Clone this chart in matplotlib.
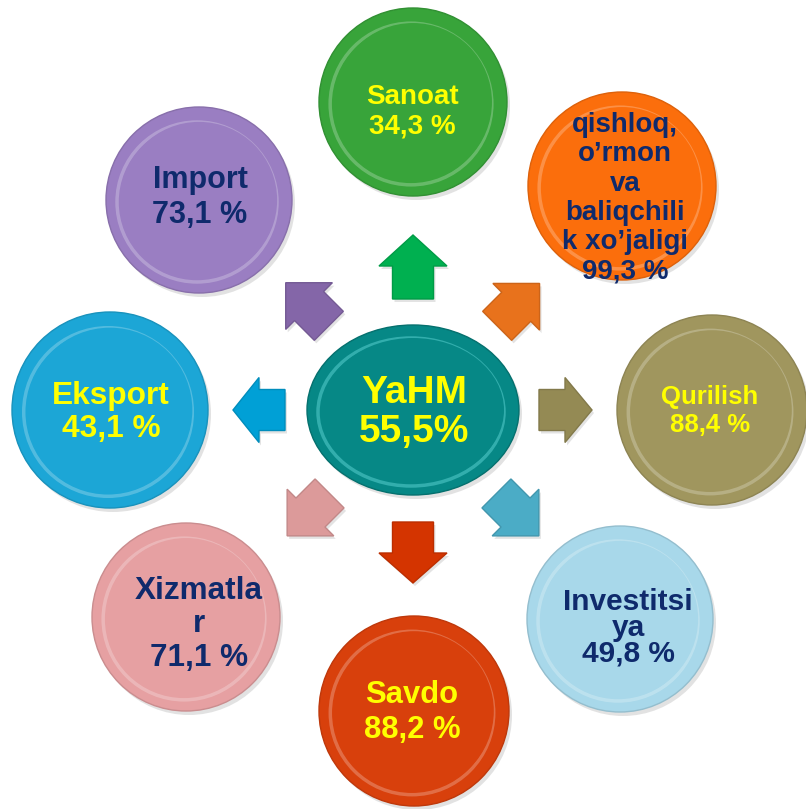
import numpy as np
import matplotlib
matplotlib.use("Agg")
from matplotlib import pyplot as plt
from matplotlib.patches import Circle, Ellipse, FancyArrow
from matplotlib.colors import to_rgb

# data
names = ["Sanoat", "qishloq,\no’rmon\nva\nbaliqchili\nk xo’jaligi", "Qurilish",
         "Investitsi\nya", "Savdo", "Xizmatla\nr", "Eksport", "Import"]
values = [34.3, 99.3, 88.4, 49.8, 88.2, 71.1, 43.1, 73.1]
center_name = "YaHM"
center_value = 55.5

circle_colors = ["#38a43a", "#fb6e0c", "#a0965e", "#a8d8ea", "#d8400c", "#e6a0a2", "#1ca6d6", "#9a7ec2"]
arrow_colors = ["#00b050", "#e8721c", "#948a54", "#4bacc6", "#d43400", "#dc9a9a", "#00a0d6", "#8466a8"]
text_colors = ["#ffff00", "#0f2a6c", "#ffff00", "#0f2a6c", "#ffff00", "#0f2a6c", "#ffff00", "#0f2a6c"]
font_sizes = [20, 20, 18.5, 21.5, 22.3, 22.7, 22.8, 22]

# layout (pixels, y down)
centers = [(413, 102), (622, 186), (712, 410), (620, 619), (414, 711), (186, 617), (110, 410), (199, 200)]
radii = [94, 94, 95, 93, 95, 94, 98, 93]
text_x = [412, 625, 710, 628, 412, 199, 111, 200]
first_base = [104, 132, 404, 610, 703, 599, 404, 188]
line_step = [29, 29.3, 28, 26, 35, 33.5, 33, 35]

# arrows: direction, distance of tail from centre, length, head width, head length
angles = [90, 45, 0, -45, -90, -135, 180, 135]
arrow_start = [111, 119, 126, 118, 112, 118, 128, 119]
arrow_len = [64, 60, 53, 60, 61, 60, 52, 61]
head_w = [68, 66, 65, 66, 68, 66, 65, 66]
head_l = [31, 33, 27, 33, 30, 33, 26, 33]


def lighten(c, f):
    r, g, b = to_rgb(c)
    return (r + (1 - r) * f, g + (1 - g) * f, b + (1 - b) * f)


def darken(c, f):
    r, g, b = to_rgb(c)
    return (r * (1 - f), g * (1 - f), b * (1 - f))


def fmt(v):
    return f"{v:.1f}".replace(".", ",")


def put_lines(x, y0, step, lines, **kw):
    for i, s in enumerate(lines):
        ax.text(x, y0 + i * step, s, ha="center", va="baseline", fontweight="bold",
                family="Liberation Sans", zorder=5, **kw)


fig = plt.figure(figsize=(8.06, 8.09), dpi=100)
ax = fig.add_axes([0, 0, 1, 1])
ax.set_xlim(0, 806)
ax.set_ylim(809, 0)
ax.set_aspect("equal")
ax.axis("off")

# glossy discs
for (cx, cy), r, col in zip(centers, radii, circle_colors):
    ax.add_patch(Circle((cx + 3, cy + 4), r, color="#a0a0a0", alpha=0.3, lw=0, zorder=1))
    ax.add_patch(Circle((cx, cy), r, facecolor=col, edgecolor=darken(col, 0.12), lw=1, zorder=2))
    ax.add_patch(Circle((cx - 2, cy + 2), r * 0.86, facecolor="none", edgecolor=lighten(col, 0.4),
                        lw=2.5, alpha=0.6, zorder=3))
    ax.add_patch(Circle((cx, cy), r * 0.84, facecolor=col, edgecolor="none", zorder=3))

# center ellipse
ax.add_patch(Ellipse((416, 414), 212, 170, color="#a0a0a0", alpha=0.3, lw=0, zorder=1))
ax.add_patch(Ellipse((413, 410), 212, 170, facecolor="#068886", edgecolor="#05706e", lw=1, zorder=2))
ax.add_patch(Ellipse((411, 412), 186, 148, facecolor="none", edgecolor="#50c8c8", lw=2.5,
                     alpha=0.6, zorder=3))
ax.add_patch(Ellipse((413, 410), 182, 144, facecolor="#068886", edgecolor="none", zorder=3))

# arrows pointing outward
for a, col, st, ln, hw, hl in zip(angles, arrow_colors, arrow_start, arrow_len, head_w, head_l):
    t = np.deg2rad(a)
    ux, uy = np.cos(t), -np.sin(t)
    sx, sy = 413 + ux * st, 410 + uy * st
    ax.add_patch(FancyArrow(sx + 2, sy + 3, ux * ln, uy * ln, width=41, head_width=hw,
                            head_length=hl, length_includes_head=True, color="#c8c8c8",
                            alpha=0.5, lw=0, zorder=1))
    ax.add_patch(FancyArrow(sx, sy, ux * ln, uy * ln, width=41, head_width=hw,
                            head_length=hl, length_includes_head=True, facecolor=col,
                            edgecolor=darken(col, 0.12), lw=1, zorder=2))

# labels
for n, v, tc, fs, x, y0, step in zip(names, values, text_colors, font_sizes,
                                      text_x, first_base, line_step):
    put_lines(x, y0, step, n.split("\n") + [fmt(v) + " %"], color=tc, fontsize=fs)

put_lines(414, 403, 39, [center_name, fmt(center_value) + "%"], color="#ffff00", fontsize=28)

plt.savefig("out.png", dpi=100)
